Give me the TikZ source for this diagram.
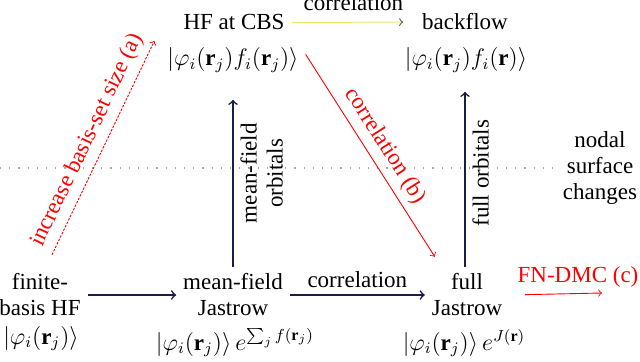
\documentclass[tikz,border=0pt]{standalone}
\usepackage{fontspec}
\setmainfont{Liberation Serif}
\usepackage{amsmath}
\newcommand{\diagfont}{\fontsize{11.5}{13}\selectfont}
\definecolor{navy}{RGB}{28,28,72}
\definecolor{paleyel}{RGB}{232,232,110}
\begin{document}
\begin{tikzpicture}[
  x=0.5pt, y=-0.5pt,
  lbl/.style={font=\diagfont},
  arr/.style={navy, line width=0.8pt, ->},
  redarr/.style={red, line width=0.45pt, ->},
  dotline/.style={gray!70, line width=0.6pt, dash pattern=on 0.6pt off 4pt},
]
\useasboundingbox (0,0) rectangle (640,362);

% ===== TOP ROW: HF at CBS and backflow ==========================================
\node[lbl, anchor=base] (hfcbs) at (234,30) {HF at CBS};
\node[lbl, anchor=base] (hfcbsket) at (233,66)
  {$|\varphi_i(\mathbf{r}_j)f_i(\mathbf{r}_j)\rangle$};
\node[lbl, anchor=base] (backflow) at (465,30) {backflow};
\node[lbl, anchor=base] (backflowket) at (466,66)
  {$|\varphi_i(\mathbf{r}_j)f_i(\mathbf{r})\rangle$};

% ===== BOTTOM ROW: finite basis, mean-field and full Jastrow ====================
\node[lbl, align=center] (finite) at (40,295) {finite-\\basis HF};
\node[lbl, anchor=base] (finiteket) at (41,344) {$|\varphi_i(\mathbf{r}_j)\rangle$};
\node[lbl, align=center] (mfj) at (233,295) {mean-field\\Jastrow};
\node[lbl, anchor=base] (mfjket) at (235,350)
  {$|\varphi_i(\mathbf{r}_j)\rangle\,e^{\sum_j f(\mathbf{r}_j)}$};
\node[lbl, align=center] (fullj) at (467,295) {full\\Jastrow};
\node[lbl, anchor=base] (fulljket) at (464,350)
  {$|\varphi_i(\mathbf{r}_j)\rangle\,e^{J(\mathbf{r})}$};

% FN-DMC step
\node[lbl, text=red, anchor=base] (fndmc) at (578,283) {FN-DMC (c)};
\coordinate (dmcend) at (602,293);

% ===== Nodal surface divider =====================================================
\node[lbl, align=center] (nodal) at (600,168) {nodal\\surface\\changes};
\coordinate (dotstart) at (0,168);
\draw[dotline] (dotstart) -- (nodal.west);

% ===== Black arrows ===============================================================
\draw[arr] (finite.east) -- (mfj.west);
\draw[arr] (mfj.east) -- (fullj.west)
  node[midway, above, lbl, text=black] {correlation};
\draw[arr, shorten >=10pt] (mfj.north) -- (mfj.north |- hfcbsket.south)
  node[midway, sloped, below, lbl, text=black, align=center] {mean-field\\orbitals};
\draw[arr, shorten >=6pt] ([xshift=-1pt]fullj.north) -- ([xshift=-1pt]fullj.north |- backflowket.south)
  node[midway, sloped, below, lbl, text=black] {full orbitals};

% Top arrow (pale)
\draw[paleyel, line width=0.5pt, -{>[black!70]}, shorten >=6pt] (hfcbs.east) -- (backflow.west)
  node[midway, above=2pt, lbl, text=black] {correlation};

% ===== Red arrows =================================================================
\draw[redarr, dash pattern=on 1.2pt off 0.7pt]
  ([xshift=6pt,yshift=6pt]finite.north) -- ([xshift=-3pt]hfcbsket.north west)
  node[midway, sloped, above, lbl, text=red] {increase basis-set size (a)};
\draw[redarr] ([yshift=3pt]hfcbsket.east) -- ([xshift=5pt,yshift=5pt]fullj.north west)
  node[midway, sloped, above, lbl, text=red] {correlation (b)};
\draw[redarr, shorten <=8pt] (fullj.east) -- (dmcend);

\end{tikzpicture}
\end{document}
